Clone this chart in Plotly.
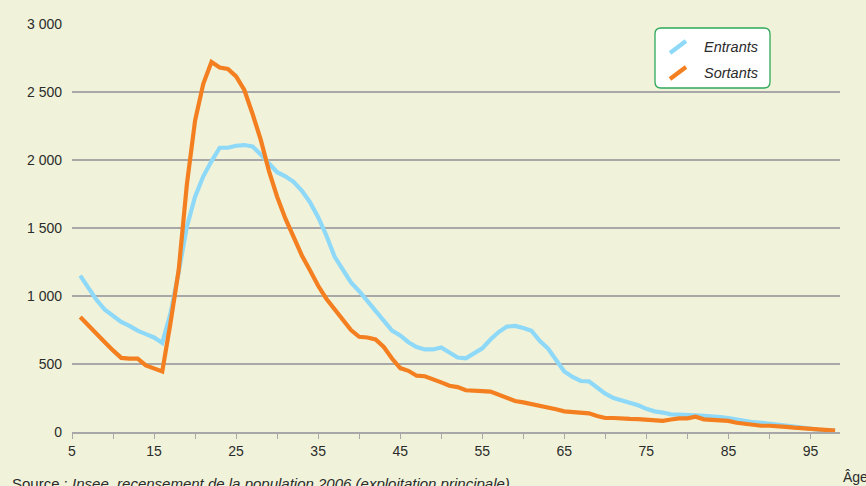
import plotly.graph_objects as go

ages = list(range(6, 99))

entrants = [1150, 1060, 970, 900, 850, 810, 780, 745, 720, 695, 655, 870, 1175, 1510, 1730,
            1880, 1990, 2090, 2090, 2105, 2110, 2100, 2040, 1970, 1910, 1880, 1840, 1775, 1690,
            1580, 1445, 1290, 1200, 1100, 1035, 960, 890, 820, 745, 710, 660, 625, 607, 607,
            622, 585, 548, 542, 580, 615, 680, 735, 775, 780, 765, 745, 670, 615, 530, 445,
            405, 375, 372, 325, 282, 250, 232, 220, 197, 170, 152, 143, 130, 128, 128, 122,
            118, 116, 110, 103, 92, 80, 72, 67, 62, 56, 47, 40, 32, 22, 16, 13, 12]

sortants = [845, 780, 720, 660, 600, 545, 540, 540, 490, 470, 445, 800, 1190, 1820, 2290,
            2560, 2720, 2680, 2670, 2615, 2515, 2340, 2150, 1920, 1730, 1570, 1425, 1300, 1190,
            1075, 980, 905, 835, 750, 700, 695, 680, 625, 540, 470, 450, 414, 410, 390, 365,
            340, 330, 307, 300, 300, 297, 272, 245, 228, 218, 206, 196, 182, 167, 152, 146,
            146, 137, 118, 103, 103, 103, 96, 95, 90, 90, 82, 92, 100, 100, 112, 93, 91, 87,
            82, 68, 59, 50, 46, 46, 45, 38, 32, 27, 20, 14, 11, 10]

x_ticks = list(range(5, 100, 5))
x_labels = [str(v) if v % 10 == 5 else "" for v in x_ticks]
y_ticks = [0, 500, 1000, 1500, 2000, 2500, 3000]
y_labels = ["0", "500", "1 000", "1 500", "2 000", "2 500", "3 000"]

series_names = ["Entrants", "Sortants"]
series_colors = ["#8ED8F8", "#F47F20"]

BG = "rgb(240,243,218)"
FONT = "Liberation Sans Narrow, Arial Narrow, Liberation Sans, Arial, sans-serif"
W, H = 866, 486
L, R, T, B = 72, 26, 24, 54
PW, PH = W - L - R, H - T - B


def px(x):
    return (x - L) / PW


def py(y):
    return (H - B - y) / PH


fig = go.Figure()
for name, vals, col in zip(series_names, [entrants, sortants], series_colors):
    fig.add_trace(go.Scatter(x=ages, y=vals, mode="lines", name=name,
                             line=dict(color=col, width=4.2), showlegend=False,
                             hoverinfo="x+y"))

shapes = []
# rounded legend box
x0, x1, y0, y1 = 655, 770, 28, 88
r = 6
path = (f"M {px(x0 + r)} {py(y0)} L {px(x1 - r)} {py(y0)} Q {px(x1)} {py(y0)} {px(x1)} {py(y0 + r)} "
        f"L {px(x1)} {py(y1 - r)} Q {px(x1)} {py(y1)} {px(x1 - r)} {py(y1)} "
        f"L {px(x0 + r)} {py(y1)} Q {px(x0)} {py(y1)} {px(x0)} {py(y1 - r)} "
        f"L {px(x0)} {py(y0 + r)} Q {px(x0)} {py(y0)} {px(x0 + r)} {py(y0)} Z")
shapes.append(dict(type="path", xref="paper", yref="paper", path=path,
                   line=dict(color="#2EA85A", width=1.3), fillcolor="white", layer="above"))
legend_y = [47, 73]
annotations = []
for name, col, ly in zip(series_names, series_colors, legend_y):
    shapes.append(dict(type="line", xref="paper", yref="paper",
                       x0=px(670), y0=py(ly + 6), x1=px(686), y1=py(ly - 6),
                       line=dict(color=col, width=4.2), layer="above"))
    annotations.append(dict(text=f"<i>{name}</i>", xref="paper", yref="paper",
                            x=px(702), y=py(ly), xanchor="left", yanchor="middle",
                            showarrow=False, font=dict(size=14.5, color="#2b2b2b", family=FONT)))

annotations.append(dict(text="Source : <i>Insee, recensement de la population 2006 (exploitation principale)</i>",
                        xref="paper", yref="paper", x=px(10), y=py(473), xanchor="left",
                        yanchor="top", showarrow=False,
                        font=dict(size=15, color="#2b2b2b", family=FONT)))
annotations.append(dict(text="Âge", xref="paper", yref="paper", x=px(841), y=py(467),
                        xanchor="left", yanchor="top", showarrow=False,
                        font=dict(size=14, color="#2b2b2b", family=FONT)))

fig.update_layout(
    width=W, height=H,
    margin=dict(l=L, r=R, t=T, b=B),
    paper_bgcolor=BG, plot_bgcolor=BG,
    shapes=shapes, annotations=annotations,
    xaxis=dict(range=[5, 98.6], tickvals=x_ticks, ticktext=x_labels,
               showgrid=False, zeroline=False, showline=True, linecolor="#A8A8A8",
               linewidth=1.5, ticks="outside", ticklen=5, tickcolor="#A8A8A8",
               tickwidth=1.3, tickfont=dict(size=14, color="#2b2b2b", family=FONT)),
    yaxis=dict(range=[0, 3000], tickvals=y_ticks, ticktext=y_labels,
               showgrid=True, gridcolor="#A8A8A8", gridwidth=1.5, zeroline=False,
               showline=False, ticks="", ticklabelstandoff=9,
               tickfont=dict(size=14, color="#2b2b2b", family=FONT)),
)

fig.write_html("out.html",
               config={"displayModeBar": False},
               post_script="document.body.style.margin='0';"
                           "document.body.style.background='rgb(240,243,218)';"
                           "document.body.style.overflow='hidden';")
